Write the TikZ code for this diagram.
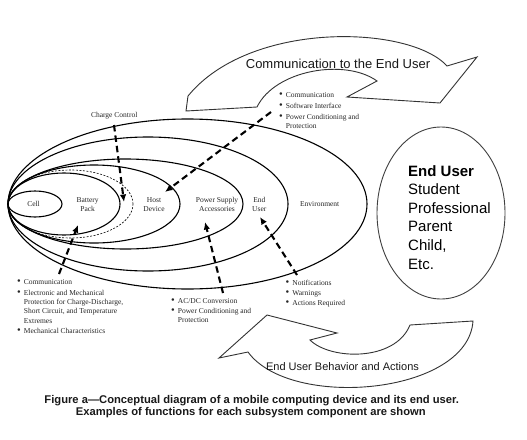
\documentclass[tikz,border=0pt]{standalone}
\usepackage{fontspec}
\setmainfont{Liberation Serif}
\newfontfamily\arialfont{Liberation Sans}
\usetikzlibrary{arrows.meta}
\newcommand{\bul}{\raisebox{-0.3pt}{\fontsize{10.5}{10.5}\selectfont\textbullet}}
\begin{document}
\begin{tikzpicture}[x=1pt,y=-1pt,
  ell/.style={draw=black, line width=1.1pt},
  darr/.style={line width=2.1pt, dash pattern=on 6.5pt off 4pt, -{Latex[length=7.5pt,width=6.5pt]}},
  lbl/.style={inner sep=0pt, font=\fontsize{7.5}{9.4}\selectfont, text=black!85},
  big/.style={draw=black!80, line width=0.9pt, line join=miter, fill=white},
  bigtxt/.style={inner sep=0pt, anchor=base, text=black!90},
]
\useasboundingbox (0,0) rectangle (527,439);
\fill[white] (0,0) rectangle (527,439);

% nested ellipses
\draw[ell] (187.5,204) ellipse [x radius=179.5pt, y radius=85pt];
\draw[ell] (148,204) ellipse [x radius=140pt, y radius=67pt];
\draw[ell] (125.5,204) ellipse [x radius=117.5pt, y radius=45pt];
\draw[ell] (94,204) ellipse [x radius=86pt, y radius=39pt];
\draw[draw=black, line width=0.6pt, dash pattern=on 2pt off 1.5pt] (70.5,204) ellipse [x radius=62.5pt, y radius=34pt];
\draw[ell] (64,204) ellipse [x radius=56pt, y radius=31pt];
\draw[ell] (35,204) ellipse [x radius=27pt, y radius=13pt];

% labels inside ellipses
\node[lbl, anchor=base] (cell) at (33.5,206.5) {Cell};
\node[lbl, anchor=base] (bat) at (87.7,202) {\begin{tabular}[t]{@{}c@{}}Battery\\Pack\end{tabular}};
\node[lbl, anchor=base] (host) at (154,202) {\begin{tabular}[t]{@{}c@{}}Host\\Device\end{tabular}};
\node[lbl, anchor=base] (psa) at (217,202) {\begin{tabular}[t]{@{}c@{}}Power Supply\\Accessories\end{tabular}};
\node[lbl, anchor=base] (eu) at (259.3,202) {\begin{tabular}[t]{@{}c@{}}End\\User\end{tabular}};
\node[lbl, anchor=base] (env) at (319.7,206) {Environment};
\node[lbl, anchor=base] (cc) at (114.2,117) {Charge Control};

% bullet lists
\node[lbl, anchor=base west] (listA) at (17,284) {\begin{tabular}[t]{@{}l@{\hspace{3pt}}l@{}}
\bul & Communication\\[1.6pt]
\bul & Electronic and Mechanical\\
 & Protection for Charge-Discharge,\\
 & Short Circuit, and Temperature\\
 & Extremes\\[0.6pt]
\bul & Mechanical Characteristics
\end{tabular}};
\node[lbl, anchor=base west] (listB) at (171,303.5) {\begin{tabular}[t]{@{}l@{\hspace{3pt}}l@{}}
\bul & AC/DC Conversion\\[0.6pt]
\bul & Power Conditioning and\\
 & Protection
\end{tabular}};
\node[lbl, anchor=base west] (listC) at (285.5,285.5) {\begin{tabular}[t]{@{}l@{\hspace{3pt}}l@{}}
\bul & Notifications\\[0.6pt]
\bul & Warnings\\[0.6pt]
\bul & Actions Required
\end{tabular}};
\node[lbl, anchor=base west] (listD) at (279,97.5) {\begin{tabular}[t]{@{}l@{\hspace{3pt}}l@{}}
\bul & Communication\\[1.6pt]
\bul & Software Interface\\[1.6pt]
\bul & Power Conditioning and\\
 & Protection
\end{tabular}};

% dashed arrows
\coordinate (cc1) at (114,125);
\coordinate (cc2) at (124,202);
\coordinate (h1) at (271,112);
\coordinate (h2) at (165,192);
\coordinate (b1) at (59,274);
\coordinate (b2) at (78,225);
\coordinate (p1) at (223,293);
\coordinate (p2) at (205,222);
\coordinate (e1) at (297,275);
\coordinate (e2) at (260,217);
\draw[darr] (cc1) -- (cc2);
\draw[darr] (h1) -- (h2);
\draw[darr] (b1) -- (b2);
\draw[darr] (p1) -- (p2);
\draw[darr] (e1) -- (e2);

% big curved arrows
\draw[big] (186,111) -- (257,107) .. controls (275,70) and (345,58) .. (377,81)
  -- (347,97) -- (440,103) -- (477,57) -- (447,66)
  .. controls (410,25) and (250,20) .. (188,96) -- cycle;
\node[bigtxt, font=\arialfont\fontsize{13}{15}\selectfont] (comm) at (338,68) {Communication to the End User};

\draw[big] (219,358) -- (267,315) -- (337,333) -- (310,340)
  .. controls (330,360) and (395,362) .. (410,325) -- (473,321)
  .. controls (468,395) and (290,410) .. (248,352) -- cycle;
\node[bigtxt, font=\arialfont\fontsize{11}{13}\selectfont] (beh) at (342.5,370) {End User Behavior and Actions};

% end user ellipse
\draw[draw=black!75, line width=0.9pt] (441,213) ellipse [x radius=64pt, y radius=86pt];
\node[inner sep=0pt, anchor=base west, font=\arialfont\fontsize{15}{18.6}\selectfont] (user) at (408,176)
  {\begin{tabular}[t]{@{}l@{}}\textbf{End User}\\Student\\Professional\\Parent\\Child,\\Etc.\end{tabular}};

% caption
\node[bigtxt, font=\arialfont\bfseries\fontsize{11.2}{12.5}\selectfont] (cap1) at (251.7,403) {Figure a—Conceptual diagram of a mobile computing device and its end user.};
\node[bigtxt, font=\arialfont\bfseries\fontsize{11.2}{12.5}\selectfont] (cap2) at (250.8,415.5) {Examples of functions for each subsystem component are shown};
\end{tikzpicture}
\end{document}
